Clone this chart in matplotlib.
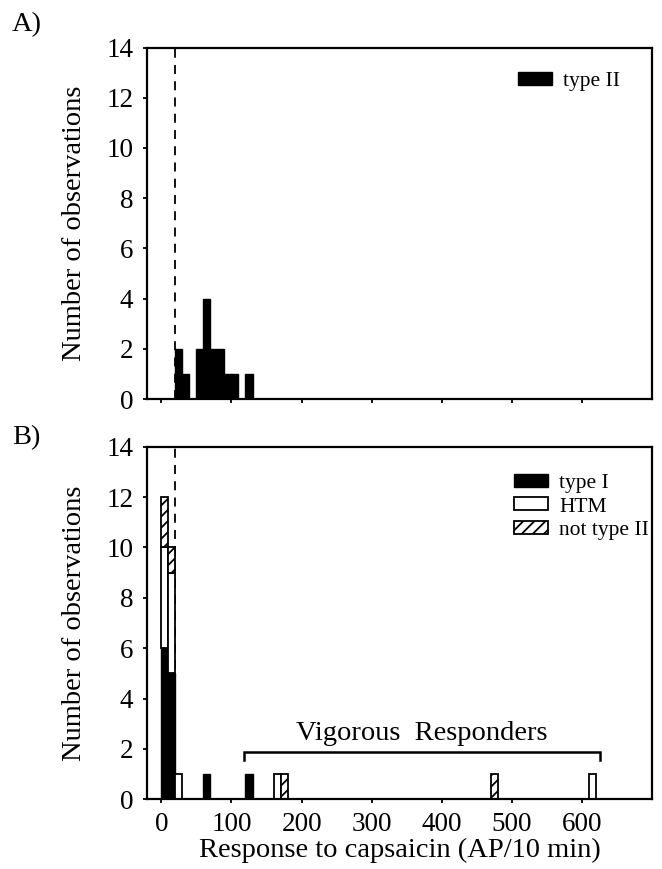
import matplotlib
matplotlib.use("Agg")
import matplotlib.pyplot as plt
import numpy as np

plt.rcParams['font.family'] = ['Liberation Serif', 'DejaVu Serif']
plt.rcParams['hatch.linewidth'] = 1.3

# ---- data (bin left edges, bin width 10 AP/10 min) ----
bin_width = 10
typeII_bins = [20, 30, 50, 60, 70, 80, 90, 100, 120]
typeII_counts = [2, 1, 2, 4, 2, 2, 1, 1, 1]

typeI_bins = [0, 10, 60, 120]
typeI_counts = [6, 5, 1, 1]
htm_bins = [0, 10, 20, 160, 610]
htm_counts = [4, 4, 1, 1, 1]
nottypeII_bins = [0, 10, 170, 470]
nottypeII_counts = [2, 1, 1, 1]

threshold = 20
xticks = [0, 100, 200, 300, 400, 500, 600]
yticks = [0, 2, 4, 6, 8, 10, 12, 14]
bracket_range = (118, 625)
bracket_label = "Vigorous  Responders"

fig = plt.figure(figsize=(6.62, 8.69), dpi=100)
W, H = 662, 869
def ax_rect(l, r, t, b):
    return [l / W, 1 - b / H, (r - l) / W, (b - t) / H]

axA = fig.add_axes(ax_rect(147.3, 652.3, 47.5, 399))
axB = fig.add_axes(ax_rect(147.3, 652.3, 446.7, 799.3))

FS = 19.5
LFS = 20.5
for ax in (axA, axB):
    ax.set_xlim(-20, 700)
    ax.set_ylim(0, 14)
    ax.set_xticks(xticks)
    ax.set_yticks(yticks)
    for s in ax.spines.values():
        s.set_linewidth(1.6)
    ax.tick_params(direction='out', length=3, width=1.3, labelsize=FS)
    ax.tick_params(axis='y', pad=7)
    ax.tick_params(axis='x', pad=6)
    ax.set_ylabel("Number of observations", fontsize=LFS, labelpad=14)
    ax.axvline(threshold, color='black', lw=1.3, ls=(0, (5, 4)), zorder=1)

# Panel A
axA.bar(typeII_bins, typeII_counts, width=bin_width, align='edge',
        color='black', edgecolor='black', lw=1, label='type II', zorder=2)
axA.tick_params(axis='x', labelbottom=False)
axA.legend(loc='upper left', bbox_to_anchor=((518 - 147.3) / 505, 1 - (72 - 47.5) / 351.5),
           frameon=False, fontsize=15.5, handlelength=1.6, handleheight=0.55,
           handletextpad=0.5, borderaxespad=0, borderpad=0)

# Panel B (stacked)
bottoms = {}
def stacked(ax, bins, counts, **kw):
    b = [bottoms.get(x, 0) for x in bins]
    ax.bar(bins, counts, width=bin_width, bottom=b, align='edge', **kw)
    for x, c in zip(bins, counts):
        bottoms[x] = bottoms.get(x, 0) + c

stacked(axB, typeI_bins, typeI_counts, color='black', edgecolor='black', lw=1,
        label='type I', zorder=2)
stacked(axB, htm_bins, htm_counts, color='white', edgecolor='black', lw=1.3,
        label='HTM', zorder=2)
stacked(axB, nottypeII_bins, nottypeII_counts, color='white', edgecolor='black', lw=1.3,
        hatch='///', label='not type II', zorder=2)
axB.legend(loc='upper left', bbox_to_anchor=((514 - 147.3) / 505, 1 - (474 - 446.7) / 352.6),
           frameon=False, fontsize=15.5, handlelength=1.6, handleheight=0.55,
           handletextpad=0.5, labelspacing=0.2, borderaxespad=0, borderpad=0)
axB.set_xlabel("Response to capsaicin (AP/10 min)", fontsize=LFS, labelpad=1)

# bracket
x0, x1 = bracket_range
axB.plot([x0, x0, x1, x1], [1.55, 1.87, 1.87, 1.55], color='black', lw=1.8,
         solid_joinstyle='miter', zorder=3)
axB.text((x0 + x1) / 2, 2.1, bracket_label, ha='center', va='bottom', fontsize=LFS)

fig.text(12 / W, 1 - 25 / H, "A)", fontsize=LFS, va='center', ha='left')
fig.text(12 / W, 1 - 438 / H, "B)", fontsize=LFS, va='center', ha='left')

fig.savefig("out.png", dpi=100)
